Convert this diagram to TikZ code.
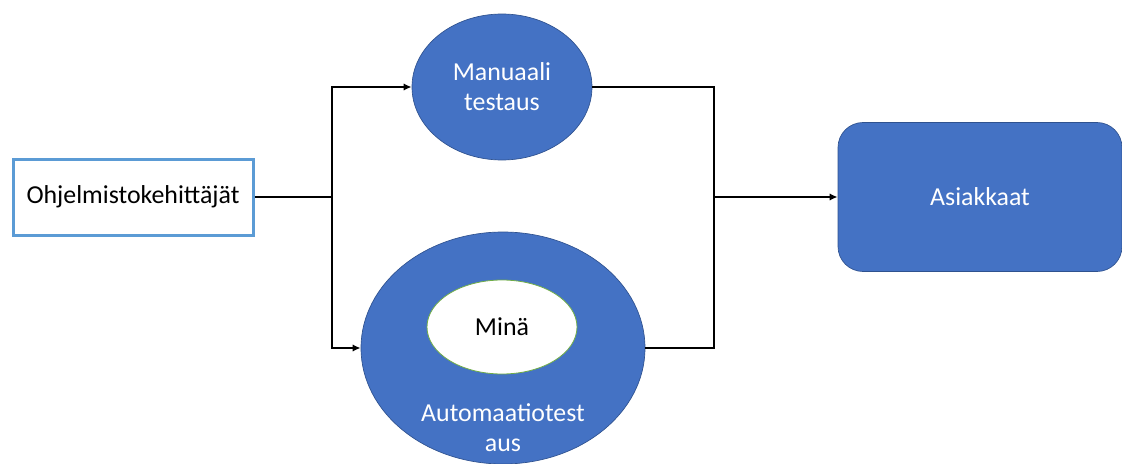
\documentclass[tikz,border=0pt]{standalone}
\usepackage{fontspec}
\setmainfont{Carlito}
\usetikzlibrary{arrows.meta,shapes.geometric}
\definecolor{accent}{HTML}{4472C4}
\definecolor{accentdark}{HTML}{2F528F}
\definecolor{devblue}{HTML}{5B9BD5}
\definecolor{mygreen}{HTML}{70AD47}
\begin{document}
\begin{tikzpicture}[
        x=0.75pt, y=-0.75pt,
        >={Latex[length=6pt,width=5.5pt]},
        font=\fontsize{19.4}{22.5}\selectfont,
        actor/.style={
          rectangle,
          draw=devblue,
          line width=2.25pt,
          fill=white,
          minimum width=180pt,
          minimum height=57pt,
          inner sep=0pt
        },
        phase/.style={
          ellipse,
          fill=accent,
          draw=accentdark,
          line width=0.5pt,
          text=white,
          align=center,
          inner sep=0pt
        },
        customer/.style={
          rectangle,
          rounded corners=18.75pt,
          fill=accent,
          draw=accentdark,
          line width=0.5pt,
          text=white,
          minimum width=213pt,
          minimum height=111.75pt
        },
        flow/.style={line width=1.5pt}
        ]
      \useasboundingbox (0,0) rectangle (1122,464);
      \node[actor] (developers) at (133,197) {Ohjelmistokehittäjät};
      \node[phase, minimum width=135pt, minimum height=109.5pt]
        (manual) at (502,87) {Manuaali\\testaus};
      \node[phase, minimum width=213pt, minimum height=174pt]
        (automation) at (503,348) {};
      \node[ellipse, fill=white, draw=mygreen, line width=0.6pt,
        minimum width=112.5pt, minimum height=70.5pt]
        (me) at (502,327) {Minä};
      \node[text=white, align=center] (autolabel) at (503,428)
        {Automaatiotest\\aus};
      \node[customer] (customers) at (980,197) {Asiakkaat};

      % branching lines
      \coordinate (split) at (332,197);
      \coordinate (merge) at (714,197);
      \draw[flow] (developers.east) -- (split);
      \draw[flow,->] (split) |- (manual.west);
      \draw[flow,->] (split) |- (automation.west);
      \draw[flow] (manual.east) -| (merge) |- (automation.east);
      \draw[flow,->] (merge) -- (customers.west);
      \end{tikzpicture}
\end{document}
